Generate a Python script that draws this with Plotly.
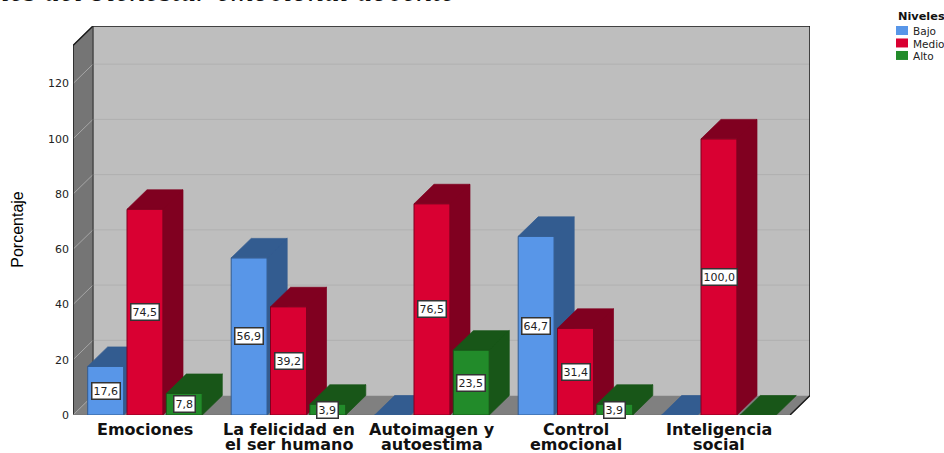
import plotly.graph_objects as go

# Values
categories = [
    ["Emociones"],
    ["La felicidad en", "el ser humano"],
    ["Autoimagen y", "autoestima"],
    ["Control", "emocional"],
    ["Inteligencia", "social"],
]
level_names = ["Bajo", "Medio", "Alto"]
bajo = [17.6, 56.9, 0, 64.7, 0]
medio = [74.5, 39.2, 76.5, 31.4, 100.0]
alto = [7.8, 3.9, 23.5, 3.9, 0]
y_ticks = [0, 20, 40, 60, 80, 100, 120]

front_colors = ["#5896E8", "#D90032", "#228B2A"]
dark_colors = ["#335C90", "#800020", "#185618"]

# Page geometry
W, H = 944, 453
LEFT, RIGHT, TOP, BOTTOM = 73, 810, 26, 415.5
PX_PER_CAT = 143.5
PX_PER_UNIT = 2.765
FIRST_CENTER = 145

X_RANGE = [(LEFT - FIRST_CENTER) / PX_PER_CAT, (RIGHT - FIRST_CENTER) / PX_PER_CAT]
Y_RANGE = [0, (BOTTOM - TOP) / PX_PER_UNIT]
DEPTH_X = 20 / PX_PER_CAT
DEPTH_Y = 19.5 / PX_PER_UNIT
BAR_WIDTH = 36 / PX_PER_CAT
BAR_STEP = 39.3 / PX_PER_CAT
WALL_TOP = Y_RANGE[1] - DEPTH_Y


def page_x(px):
    return (px - LEFT) / (RIGHT - LEFT)


def page_y(px):
    return (BOTTOM - px) / (BOTTOM - TOP)


def box_faces(x_center, value):
    # side and top of one bar, pushed back by the depth offset
    x0 = x_center - BAR_WIDTH / 2
    x1 = x_center + BAR_WIDTH / 2
    xs = [x0, x1, x1 + DEPTH_X, x0 + DEPTH_X, x0, None]
    ys = [value, value, value + DEPTH_Y, value + DEPTH_Y, value, None]
    if value > 0:
        xs += [x1, x1 + DEPTH_X, x1 + DEPTH_X, x1, x1, None]
        ys += [0, DEPTH_Y, value + DEPTH_Y, value, 0, None]
    return xs, ys


def poly(xs, ys, fill, line_color, width=1, xaxis="x", yaxis="y"):
    return go.Scatter(
        x=xs, y=ys, mode="lines", fill="toself", fillcolor=fill,
        line=dict(color=line_color, width=width), hoverinfo="skip",
        showlegend=False, xaxis=xaxis, yaxis=yaxis,
    )


def line(xs, ys, color, width=1):
    return go.Scatter(
        x=xs, y=ys, mode="lines", line=dict(color=color, width=width),
        hoverinfo="skip", showlegend=False, cliponaxis=False,
    )


def walls():
    x0, x1 = X_RANGE
    floor_right = x1 - DEPTH_X
    back_left = x0 + DEPTH_X
    traces = [
        poly([back_left, x1, x1, back_left, back_left],
             [DEPTH_Y, DEPTH_Y, Y_RANGE[1], Y_RANGE[1], DEPTH_Y], "#BEBEBE", "#BEBEBE"),
        poly([x0, back_left, back_left, x0, x0],
             [0, DEPTH_Y, Y_RANGE[1], WALL_TOP, 0], "#757575", "#757575"),
        poly([x0, floor_right, x1, back_left, x0],
             [0, 0, DEPTH_Y, DEPTH_Y, 0], "#808080", "#808080"),
    ]
    for tick in y_ticks:
        traces.append(line([back_left, x1], [tick + DEPTH_Y] * 2, "#B0B0B0"))
        traces.append(line([x0, back_left], [tick, tick + DEPTH_Y], "#A6A6A6"))
    traces += [
        line([x0, x0, back_left, x1, x1, floor_right],
             [0, WALL_TOP, Y_RANGE[1], Y_RANGE[1], DEPTH_Y, 0], "#1A1A1A", 1.5),
        line([back_left, back_left], [Y_RANGE[1], DEPTH_Y], "#333333", 1),
        line([x0, floor_right], [0, 0], "#777777", 1.5),
    ]
    return traces


def series_traces(values, idx):
    axis = idx + 2
    xs_center = [i + (idx - 1) * BAR_STEP for i in range(len(values))]
    face_x, face_y = [], []
    for xc, val in zip(xs_center, values):
        fx, fy = box_faces(xc, val)
        face_x += fx
        face_y += fy
    return [
        go.Bar(
            x=xs_center, y=values, width=BAR_WIDTH, name=level_names[idx],
            marker=dict(color=front_colors[idx], line=dict(color=dark_colors[idx], width=1)),
            hoverinfo="skip", showlegend=False, xaxis=f"x{axis}", yaxis=f"y{axis}",
        ),
        poly(face_x, face_y, dark_colors[idx], dark_colors[idx], 0.7,
             xaxis=f"x{axis}", yaxis=f"y{axis}"),
    ]


def value_labels(all_values):
    notes = []
    for idx, values in enumerate(all_values):
        for i, val in enumerate(values):
            if val == 0:
                continue
            notes.append(dict(
                x=i + (idx - 1) * BAR_STEP, y=val / 2, xref="x", yref="y",
                text=f"{val:.1f}".replace(".", ","), showarrow=False,
                xanchor="center", yanchor="middle",
                font=dict(family="DejaVu Sans", size=11, color="#222222"),
                bgcolor="white", bordercolor="#333333", borderwidth=1.5, borderpad=1,
            ))
    return notes


def category_labels():
    notes = []
    for i, lines in enumerate(categories):
        for row, text in enumerate(lines):
            notes.append(dict(
                x=i, y=page_y(430 + row * 15.5), xref="x", yref="paper", text=text,
                showarrow=False, xanchor="center", yanchor="middle",
                font=dict(family="DejaVu Sans", size=16, color="#111111", weight="bold"),
            ))
    return notes


def legend_parts():
    notes = [dict(
        x=page_x(896), y=page_y(16), xref="paper", yref="paper", text="<b>Niveles</b>",
        xanchor="left", yanchor="middle", showarrow=False,
        font=dict(family="DejaVu Sans", size=11.3, color="#111111"),
    )]
    shapes = []
    for row, name in enumerate(level_names):
        center = 30.5 + row * 12.5
        notes.append(dict(
            x=page_x(911), y=page_y(center + 1), xref="paper", yref="paper", text=name,
            xanchor="left", yanchor="middle", showarrow=False,
            font=dict(family="DejaVu Sans", size=10.5, color="#222222"),
        ))
        shapes.append(dict(
            type="rect", xref="paper", yref="paper", line_width=0,
            x0=page_x(896), x1=page_x(908),
            y0=page_y(center - 4.5), y1=page_y(center + 4.5),
            fillcolor=front_colors[row],
        ))
    return notes, shapes


def make_figure():
    all_values = [bajo, medio, alto]
    fig = go.Figure()
    fig.add_traces(walls())
    for idx, values in enumerate(all_values):
        fig.add_traces(series_traces(values, idx))

    legend_notes, legend_shapes = legend_parts()
    notes = value_labels(all_values) + category_labels() + legend_notes
    notes.append(dict(
        x=page_x(18), y=page_y(230), xref="paper", yref="paper", text="Porcentaje",
        textangle=-90, showarrow=False, xanchor="center", yanchor="middle",
        font=dict(family="Liberation Sans", size=16, color="#000000"),
    ))
    # the title is cut by the top of the picture in the original too
    notes.append(dict(
        x=page_x(-1), y=page_y(-10), xref="paper", yref="paper",
        text="<i>les del bienestar emocional docente</i>",
        xanchor="left", yanchor="middle", showarrow=False,
        font=dict(family="Liberation Serif", size=31.7, color="#111111"),
    ))

    layout = dict(
        width=W, height=H, margin=dict(l=LEFT, r=W - RIGHT, t=TOP, b=H - BOTTOM),
        paper_bgcolor="white", plot_bgcolor="white", showlegend=False,
        barmode="overlay", annotations=notes, shapes=legend_shapes,
        xaxis=dict(range=X_RANGE, visible=False, fixedrange=True),
        yaxis=dict(
            range=Y_RANGE, tickvals=y_ticks, showgrid=False, zeroline=False,
            showline=False, ticks="", ticklabelstandoff=3,
            tickfont=dict(family="DejaVu Sans", size=11, color="#222222"),
        ),
    )
    for axis in (2, 3, 4):
        layout[f"xaxis{axis}"] = dict(range=X_RANGE, visible=False, overlaying="x")
        layout[f"yaxis{axis}"] = dict(range=Y_RANGE, visible=False, overlaying="y")
    fig.update_layout(**layout)
    return fig


if __name__ == "__main__":
    fig = make_figure()
    # the page's default body margin would shift the whole figure by 8 px
    fig.write_html("out.html", config=dict(displayModeBar=False),
                   post_script="document.body.style.margin='0';")
